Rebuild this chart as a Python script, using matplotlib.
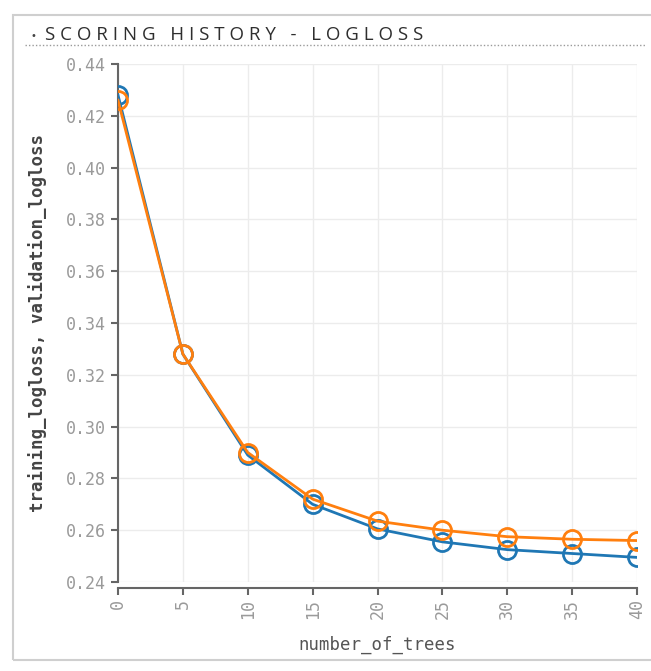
import matplotlib.pyplot as plt
from matplotlib.patches import Rectangle
from matplotlib.lines import Line2D

# scoring history values
number_of_trees = [0, 5, 10, 15, 20, 25, 30, 35, 40]
training_logloss = [0.4280, 0.3280, 0.2890, 0.2700, 0.2605, 0.2555, 0.2525, 0.2510, 0.2495]
validation_logloss = [0.4260, 0.3280, 0.2900, 0.2720, 0.2635, 0.2600, 0.2575, 0.2565, 0.2560]
y_ticks = [0.24, 0.26, 0.28, 0.30, 0.32, 0.34, 0.36, 0.38, 0.40, 0.42, 0.44]
x_ticks = [0, 5, 10, 15, 20, 25, 30, 35, 40]

W, H = 651, 671
fig = plt.figure(figsize=(W / 100, H / 100), dpi=100)

# panel frame, title and dotted rule
fig.patches.append(Rectangle((13 / W, 1 - 660 / H), (W - 10) / W, (660 - 15) / H,
                             transform=fig.transFigure, fill=False,
                             edgecolor='#cfcfcf', lw=1.5))
fig.lines.append(Line2D([25 / W, 645 / W], [1 - 45 / H, 1 - 45 / H],
                        transform=fig.transFigure, color='#9a9a9a',
                        lw=1, ls=(0, (1, 1.5))))
fig.text(30 / W, 1 - 36 / H, '\u2022', fontsize=7, color='#444', va='center')
title = 'SCORING HISTORY - LOGLOSS'
fig.text(45 / W, 1 - 35 / H, ' '.join(title).replace('   ', '   '),
         fontsize=13.5, family='Open Sans', color='#2e2e2e', va='center')

ax = fig.add_axes([118 / W, 1 - 582 / H, (637 - 118) / W, (582 - 64) / H])

ax.plot(number_of_trees, training_logloss, color='#1f77b4', lw=2,
        marker='o', ms=13, mfc='none', mew=2, zorder=3)
ax.plot(number_of_trees, validation_logloss, color='#ff7f0e', lw=2,
        marker='o', ms=13, mfc='none', mew=2, zorder=4)

ax.set_xlim(0, 40)
ax.set_ylim(0.24, 0.44)
ax.set_xticks(x_ticks)
ax.set_yticks(y_ticks)
ax.set_xticklabels([str(t) for t in x_ticks])
ax.set_yticklabels(['%.2f' % t for t in y_ticks])
ax.grid(True, color='#ececec', lw=1)
ax.set_axisbelow(True)

for s in ['top', 'right']:
    ax.spines[s].set_visible(False)
for s in ['left', 'bottom']:
    ax.spines[s].set_color('#666')
    ax.spines[s].set_linewidth(1.5)
ax.spines['bottom'].set_position(('outward', 4))
ax.tick_params(direction='out', length=5, width=1.5, color='#666',
               labelsize=12, labelcolor='#9a9a9a')
ax.tick_params(axis='x', labelrotation=90)
for lab in ax.get_xticklabels() + ax.get_yticklabels():
    lab.set_family('DejaVu Sans Mono')

ax.set_xlabel('number_of_trees', family='DejaVu Sans Mono', fontsize=12.5,
              color='#555', labelpad=12)
ax.set_ylabel('training_logloss, validation_logloss', family='DejaVu Sans Mono',
              fontsize=12.5, fontweight='bold', color='#444', labelpad=14)

fig.savefig('out.png', dpi=100)
